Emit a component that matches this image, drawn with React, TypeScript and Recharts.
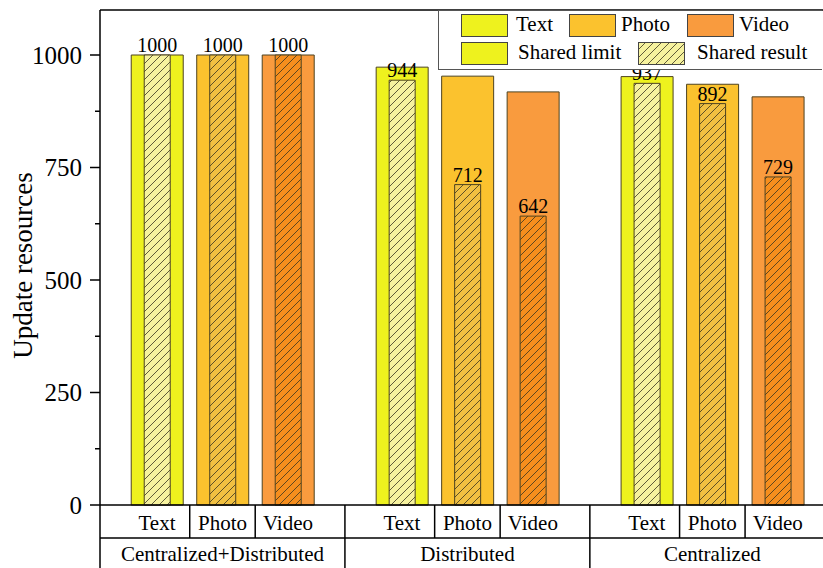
import { BarChart, Bar, XAxis, YAxis, Cell, LabelList, ReferenceLine } from 'recharts';

const categories = ['Text', 'Photo', 'Video'];
const groups = ['Centralized+Distributed', 'Distributed', 'Centralized'];
const sharedLimit = [1000, 1000, 1000, 973, 953, 918, 952, 935, 907];
const sharedResult = [1000, 1000, 1000, 944, 712, 642, 937, 892, 729];
const yTicks = [0, 250, 500, 750, 1000];
const yMinorTicks = [125, 375, 625, 875];
const legendNames = ['Shared limit', 'Shared result'];

const FONT = '"Liberation Serif", "Times New Roman", serif';
const outerColors = ['#EEF21E', '#FBC22E', '#F99B3E'];
const innerColors = ['#F6F29E', '#F1C041', '#F68E1D'];
const EDGE = '#4d4320';

// x positions: three bars per group, wider gap between groups
const GROUP_STEP = 3.74;
const X_MIN = -0.87;
const X_MAX = 10.17;

const data = sharedLimit.map((limit, i) => {
  const g = Math.floor(i / 3);
  const c = i % 3;
  return { pos: g * GROUP_STEP + c, c, g, category: categories[c], group: groups[g], limit, result: sharedResult[i] };
});

type TickSpec = { value: number; kind: 'label' | 'line'; text?: string };

const groupEdges = [X_MIN, ...groups.slice(1).map((_, g) => (g * GROUP_STEP + 2 + (g + 1) * GROUP_STEP) / 2)];

const catTickSpecs: TickSpec[] = [
  ...data.map((d) => ({ value: d.pos, kind: 'label' as const, text: d.category })),
  ...groupEdges.map((v) => ({ value: v, kind: 'line' as const })),
  ...data.filter((d) => d.c < 2).map((d) => ({ value: d.pos + 0.5, kind: 'line' as const })),
];

const groupTickSpecs: TickSpec[] = [
  ...groups.map((name, g) => ({ value: g * GROUP_STEP + 1, kind: 'label' as const, text: name })),
  ...groupEdges.map((v) => ({ value: v, kind: 'line' as const })),
];

const findSpec = (specs: TickSpec[], v: number) => specs.find((s) => Math.abs(s.value - v) < 1e-6);

const makeTableTick = (specs: TickSpec[], rowHeight: number) => (props: any) => {
  const { x, y, payload } = props;
  const spec = findSpec(specs, payload.value);
  if (!spec) return null;
  if (spec.kind === 'line') {
    return <line x1={x} x2={x} y1={y} y2={y + rowHeight} stroke="#000" strokeWidth={1.5} />;
  }
  return (
    <text x={x} y={y + rowHeight / 2 + 1} textAnchor="middle" dominantBaseline="central" fontSize={21} fontFamily={FONT} fill="#000">
      {spec.text}
    </text>
  );
};

const YTick = (props: any) => {
  const { x, y, payload } = props;
  const major = yTicks.includes(payload.value);
  return (
    <g>
      <line x1={x - (major ? 10 : 5)} x2={x} y1={y} y2={y} stroke="#000" strokeWidth={1.5} />
      {major && (
        <text x={x - 18} y={y} textAnchor="end" dominantBaseline="central" fontSize={25} fontFamily={FONT} fill="#000">
          {payload.value}
        </text>
      )}
    </g>
  );
};

const Swatch = ({ color, hatch }: { color: string; hatch?: boolean }) => (
  <svg width={47} height={23} style={{ display: 'block' }}>
    <defs>
      <pattern id="legend-hatch" width={8} height={8} patternUnits="userSpaceOnUse">
        <rect width={8} height={8} fill={innerColors[0]} />
        <path d="M0,8 L8,0 M-2,2 L2,-2 M6,10 L10,6" stroke="#3a3520" strokeWidth={0.8} />
      </pattern>
    </defs>
    <rect x={0.5} y={0.5} width={46} height={22} fill={hatch ? 'url(#legend-hatch)' : color} stroke="#444" strokeWidth={1} />
  </svg>
);

const legendItems = [
  { left: 22, top: 3, textLeft: 77, label: categories[0], color: outerColors[0] },
  { left: 130, top: 3, textLeft: 182, label: categories[1], color: outerColors[1] },
  { left: 248, top: 3, textLeft: 300, label: categories[2], color: outerColors[2] },
  { left: 22, top: 31, textLeft: 79, label: legendNames[0], color: outerColors[0] },
  { left: 199, top: 31, textLeft: 258, label: legendNames[1], color: innerColors[0], hatch: true },
];

function ChartLegend() {
  return (
    <div
      style={{
        position: 'absolute', left: 438, top: 10, width: 384, height: 60,
        border: '1px solid #555', borderRight: 'none', background: '#fff', boxSizing: 'border-box',
        fontFamily: FONT, fontSize: 21, color: '#000',
      }}
    >
      {legendItems.map((it) => (
        <div key={it.label}>
          <div style={{ position: 'absolute', left: it.left, top: it.top }}>
            <Swatch color={it.color} hatch={it.hatch} />
          </div>
          <div style={{ position: 'absolute', left: it.textLeft, top: it.top - 2, lineHeight: '25px' }}>{it.label}</div>
        </div>
      ))}
    </div>
  );
}

export default function App() {
  return (
    <div style={{ position: 'absolute', left: 0, top: 0, width: 823, height: 568, background: '#fff' }}>
      <BarChart width={823} height={568} data={data} margin={{ top: 10, right: 0, left: 0, bottom: 0 }}>
        <defs>
          {innerColors.map((col, i) => (
            <pattern key={i} id={`hatch-${i}`} width={8} height={8} patternUnits="userSpaceOnUse">
              <rect width={8} height={8} fill={col} />
              <path d="M0,8 L8,0 M-2,2 L2,-2 M6,10 L10,6" stroke="#3a3520" strokeWidth={0.8} />
            </pattern>
          ))}
        </defs>
        <XAxis
          xAxisId="cat"
          dataKey="pos"
          type="number"
          domain={[X_MIN, X_MAX]}
          ticks={catTickSpecs.map((s) => s.value)}
          interval={0}
          height={33}
          tickLine={false}
          tickSize={0}
          tickMargin={0}
          axisLine={{ stroke: '#000', strokeWidth: 1.5 }}
          tick={makeTableTick(catTickSpecs, 33)}
        />
        <XAxis
          xAxisId="grp"
          dataKey="pos"
          type="number"
          domain={[X_MIN, X_MAX]}
          ticks={groupTickSpecs.map((s) => s.value)}
          interval={0}
          height={30}
          tickLine={false}
          tickSize={0}
          tickMargin={0}
          axisLine={{ stroke: '#000', strokeWidth: 1.5 }}
          tick={makeTableTick(groupTickSpecs, 30)}
        />
        <YAxis
          type="number"
          domain={[0, 1100]}
          ticks={[...yTicks, ...yMinorTicks].sort((a, b) => a - b)}
          interval={0}
          width={100}
          tickLine={false}
          tickSize={0}
          tickMargin={0}
          axisLine={{ stroke: '#000', strokeWidth: 1.5 }}
          tick={YTick}
          label={{
            content: ({ viewBox }: any) => {
              const cx = viewBox.x + 23;
              const cy = viewBox.y + viewBox.height / 2 + 8;
              return (
                <text x={cx} y={cy} transform={`rotate(-90 ${cx} ${cy})`} textAnchor="middle" dominantBaseline="central" fontSize={27} fontFamily={FONT} fill="#000">
                  Update resources
                </text>
              );
            },
          }}
        />
        <ReferenceLine xAxisId="cat" y={1100} stroke="#000" strokeWidth={1.5} />
        <Bar xAxisId="cat" dataKey="limit" barSize={52} stroke={EDGE} strokeWidth={1} isAnimationActive={false}>
          {data.map((d) => (
            <Cell key={d.pos} fill={outerColors[d.c]} />
          ))}
        </Bar>
        <Bar xAxisId="grp" dataKey="result" barSize={26} stroke={EDGE} strokeWidth={1} isAnimationActive={false}>
          {data.map((d) => (
            <Cell key={d.pos} fill={`url(#hatch-${d.c})`} />
          ))}
          <LabelList dataKey="result" position="top" offset={3} fill="#000" fontSize={20} fontFamily={FONT} />
        </Bar>
      </BarChart>
      <ChartLegend />
    </div>
  );
}
